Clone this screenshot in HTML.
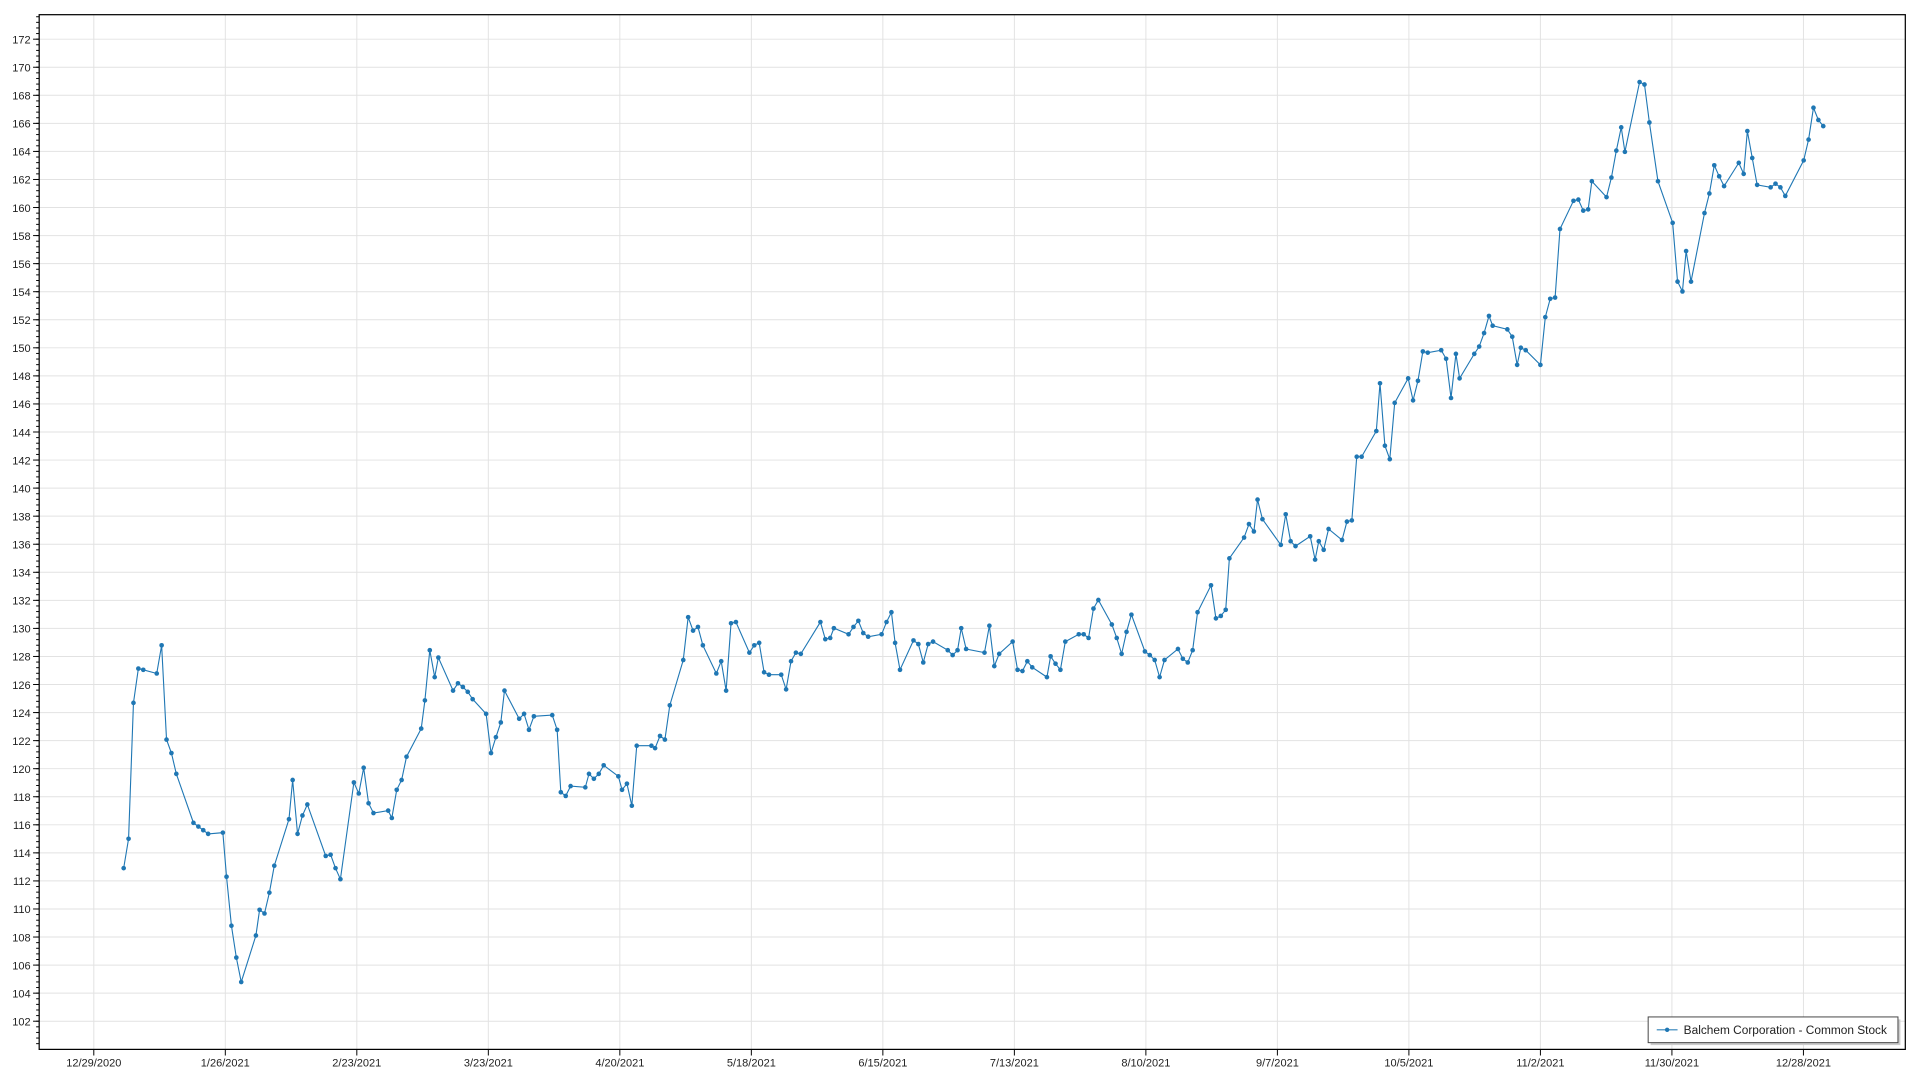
<!DOCTYPE html>
<html><head><meta charset="utf-8"><style>
html,body{margin:0;padding:0;background:#fff;}
svg{display:block;font-family:"Liberation Sans",sans-serif;}
</style></head><body>
<svg id="s" width="1920" height="1080" viewBox="0 0 1568 882" xmlns="http://www.w3.org/2000/svg">
<g id="grid" stroke="#e2e2e2" stroke-width="0.8"></g>
<rect x="32" y="12" width="1524" height="845" fill="none" stroke="#000" stroke-width="1"/>
<g id="ticks" stroke="#000" stroke-width="0.8"></g>
<g font-size="9" fill="#222" text-anchor="end">
<text x="25" y="35.5">172</text><text x="25" y="58.4">170</text><text x="25" y="81.3">168</text><text x="25" y="104.2">166</text><text x="25" y="127.1">164</text><text x="25" y="150">162</text><text x="25" y="173">160</text><text x="25" y="195.9">158</text><text x="25" y="218.8">156</text><text x="25" y="241.7">154</text><text x="25" y="264.6">152</text><text x="25" y="287.5">150</text><text x="25" y="310.4">148</text><text x="25" y="333.4">146</text><text x="25" y="356.3">144</text><text x="25" y="379.2">142</text><text x="25" y="402.1">140</text><text x="25" y="425">138</text><text x="25" y="447.9">136</text><text x="25" y="470.8">134</text><text x="25" y="493.8">132</text><text x="25" y="516.7">130</text><text x="25" y="539.6">128</text><text x="25" y="562.5">126</text><text x="25" y="585.4">124</text><text x="25" y="608.3">122</text><text x="25" y="631.2">120</text><text x="25" y="654.2">118</text><text x="25" y="677.1">116</text><text x="25" y="700">114</text><text x="25" y="722.9">112</text><text x="25" y="745.8">110</text><text x="25" y="768.7">108</text><text x="25" y="791.6">106</text><text x="25" y="814.6">104</text><text x="25" y="837.5">102</text>
</g>
<g font-size="9" fill="#222" text-anchor="middle">
<text x="76.6" y="871">12/29/2020</text><text x="184" y="871">1/26/2021</text><text x="291.4" y="871">2/23/2021</text><text x="398.8" y="871">3/23/2021</text><text x="506.2" y="871">4/20/2021</text><text x="613.6" y="871">5/18/2021</text><text x="721" y="871">6/15/2021</text><text x="828.4" y="871">7/13/2021</text><text x="935.8" y="871">8/10/2021</text><text x="1043.2" y="871">9/7/2021</text><text x="1150.6" y="871">10/5/2021</text><text x="1258" y="871">11/2/2021</text><text x="1365.4" y="871">11/30/2021</text><text x="1472.8" y="871">12/28/2021</text>
</g>
<polyline id="line" fill="none" stroke="#1f77b4" stroke-width="0.9"/>
<g id="pts" fill="#1f77b4"></g>
<rect x="1348" y="832.5" width="204" height="21" fill="#ccc"/>
<rect x="1346" y="830.5" width="204" height="21" fill="#fff" stroke="#444" stroke-width="0.8"/>
<line x1="1353" y1="841" x2="1370" y2="841" stroke="#1f77b4" stroke-opacity="0.7" stroke-width="1.2"/>
<circle cx="1361.5" cy="841" r="1.8" fill="#1f77b4"/>
<text x="1375" y="844.5" font-size="9.6" fill="#222" textLength="166" lengthAdjust="spacingAndGlyphs">Balchem Corporation - Common Stock</text>
</svg>
<script>
var ns="http://www.w3.org/2000/svg";
var g=document.getElementById('grid'),t=document.getElementById('ticks');
function L(p,x1,y1,x2,y2){var l=document.createElementNS(ns,'line');l.setAttribute('x1',x1);l.setAttribute('y1',y1);l.setAttribute('x2',x2);l.setAttribute('y2',y2);p.appendChild(l);}
for(var v=102;v<=172;v+=2){var y=32+(172-v)*11.457;L(g,32,y,1556,y);L(t,27,y,32,y);}
for(var v=100.4;v<173.8;v+=0.4){var y=32+(172-v)*11.457;if(y>12&&y<857)L(t,29.5,y,32,y);}
for(var k=0;k<14;k++){var x=76.6+k*107.4;L(g,x,12,x,857);L(t,x,857,x,862);}
var P=[[101,709],[105,685],[109,574],[113,546],[117,547],[128,550],[132,527],[136,604],[140,615],[144,632],[158,672],[162,675],[166,678],[170,681],[182,680],[185,716],[189,756],[193,782],[197,802],[209,764],[212,743],[216,746],[220,729],[224,707],[236,669],[239,637],[243,681],[247,666],[251,657],[266,699],[270,698],[274,709],[278,718],[289,639],[293,648],[297,627],[301,656],[305,664],[317,662],[320,668],[324,645],[328,637],[332,618],[344,595],[347,572],[351,531],[355,553],[358,537],[370,564],[374,558],[378,561],[382,565],[386,571],[397,583],[401,615],[405,602],[409,590],[412,564],[424,587],[428,583],[432,596],[436,585],[451,584],[455,596],[458,647],[462,650],[466,642],[478,643],[481,632],[485,636],[489,632],[493,625],[505,634],[508,645],[512,640],[516,658],[520,609],[532,609],[535,611],[539,601],[543,604],[547,576],[558,539],[562,504],[566,515],[570,512],[574,527],[585,550],[589,540],[593,564],[597,509],[601,508],[612,533],[616,527],[620,525],[624,549],[628,551],[638,551],[642,563],[646,540],[650,533],[654,534],[670,508],[674,522],[678,521],[681,513],[693,518],[697,512],[701,507],[705,517],[709,520],[720,518],[724,508],[728,500],[731,525],[735,547],[746,523],[750,526],[754,541],[758,526],[762,524],[774,531],[778,535],[782,531],[785,513],[789,530],[804,533],[808,511],[812,544],[816,534],[827,524],[831,547],[835,548],[839,540],[843,545],[855,553],[858,536],[862,542],[866,547],[870,524],[881,518],[885,518],[889,521],[893,497],[897,490],[908,510],[912,521],[916,534],[920,516],[924,502],[935,532],[939,535],[943,539],[947,553],[951,539],[962,530],[966,538],[970,541],[974,531],[978,500],[989,478],[993,505],[997,503],[1001,498],[1004,456],[1016,439],[1020,428],[1024,434],[1027,408],[1031,424],[1046,445],[1050,420],[1054,442],[1058,446],[1070,438],[1074,457],[1077,442],[1081,449],[1085,432],[1096,441],[1100,426],[1104,425],[1108,373],[1112,373],[1124,352],[1127,313],[1131,364],[1135,375],[1139,329],[1150,309],[1154,327],[1158,311],[1162,287],[1166,288],[1177,286],[1181,293],[1185,325],[1189,289],[1192,309],[1204,289],[1208,283],[1212,272],[1216,258],[1219,266],[1231,269],[1235,275],[1239,298],[1242,284],[1246,286],[1258,298],[1262,259],[1266,244],[1270,243],[1274,187],[1285,164],[1289,163],[1293,172],[1297,171],[1300,148],[1312,161],[1316,145],[1320,123],[1324,104],[1327,124],[1339,67],[1343,69],[1347,100],[1354,148],[1366,182],[1370,230],[1374,238],[1377,205],[1381,230],[1392,174],[1396,158],[1400,135],[1404,144],[1408,152],[1420,133],[1424,142],[1427,107],[1431,129],[1435,151],[1446,153],[1450,150],[1454,153],[1458,160],[1473,131],[1477,114],[1481,88],[1485,98],[1489,103]];
document.getElementById('line').setAttribute('points',P.map(function(p){return p.join(',')}).join(' '));
var pg=document.getElementById('pts');
P.forEach(function(p){var c=document.createElementNS(ns,'circle');c.setAttribute('cx',p[0]);c.setAttribute('cy',p[1]);c.setAttribute('r',1.9);pg.appendChild(c);});
</script>
</body></html>
